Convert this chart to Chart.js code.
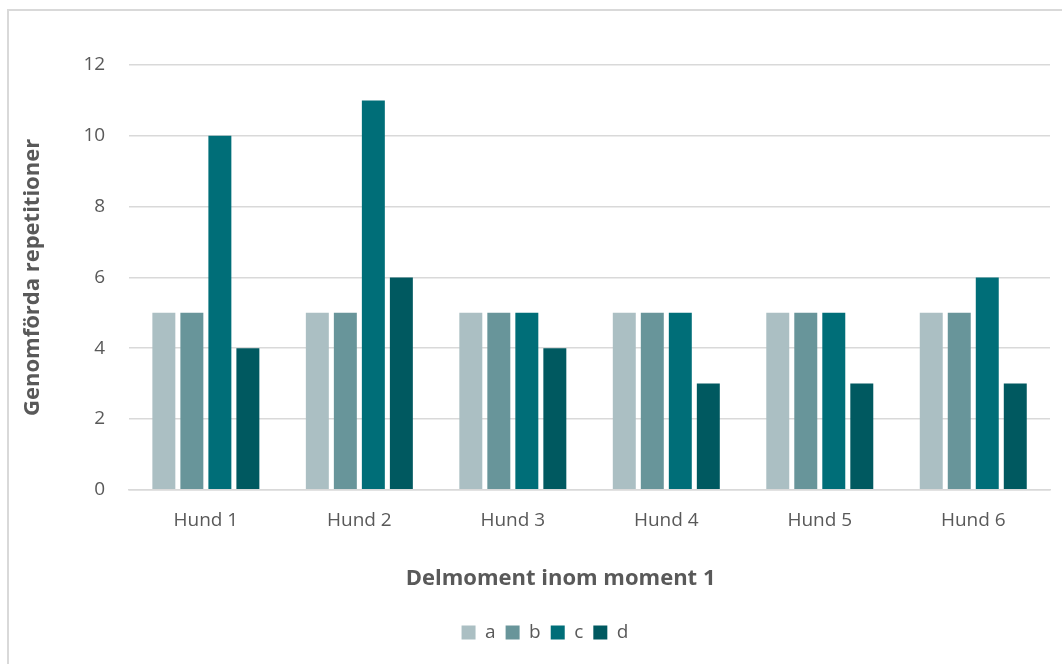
<!DOCTYPE html>
<html>
<head>
<meta charset="utf-8">
<script src="https://cdn.jsdelivr.net/npm/chart.js@4"></script>
<style>
  html, body { margin: 0; padding: 0; background: #fff; }
  #wrap { position: relative; width: 1062px; height: 664px; }
  #frame { position: absolute; left: 7px; top: 9px; width: 1062px; height: 664px;
           border-left: 2px solid #d9d9d9; border-top: 2px solid #d9d9d9; box-sizing: border-box; }
  canvas { position: absolute; left: 0; top: 0; }
</style>
</head>
<body>
<div id="wrap">
  <div id="frame"></div>
  <canvas id="c" width="1062" height="664"></canvas>
</div>
<script>
const categories = ["Hund 1", "Hund 2", "Hund 3", "Hund 4", "Hund 5", "Hund 6"];
const seriesA = [5, 5, 5, 5, 5, 5];
const seriesB = [5, 5, 5, 5, 5, 5];
const seriesC = [10, 11, 5, 5, 5, 6];
const seriesD = [4, 6, 4, 3, 3, 3];
const seriesNames = ["a", "b", "c", "d"];
const seriesColors = ["#abbfc3", "#68959a", "#006e78", "#005960"];
const yTicks = [0, 2, 4, 6, 8, 10, 12];

const FONT = "'Open Sans', 'Liberation Sans', sans-serif";
const TEXT = "#595959";

const ds = [seriesA, seriesB, seriesC, seriesD].map((vals, i) => ({
  label: seriesNames[i],
  data: vals,
  backgroundColor: seriesColors[i],
  borderWidth: 0,
  categoryPercentage: 0.73,
  barPercentage: 0.82
}));

// nudge the legend block slightly right, and centre the x-axis title
// over the area that includes the y-axis labels
const layoutTweaks = {
  id: "layoutTweaks",
  afterLayout(chart) {
    if (chart.legend) { chart.legend.left += 10; chart.legend.right += 10; }
    const xs = chart.scales.x;
    if (xs && !xs._titleWrapped) {
      const orig = xs.drawTitle;
      xs.drawTitle = function (...args) {
        const l = this.left;
        this.left = l - 58;
        orig.apply(this, args);
        this.left = l;
      };
      xs._titleWrapped = true;
    }
  }
};

new Chart(document.getElementById("c"), {
  type: "bar",
  data: { labels: categories, datasets: ds },
  plugins: [layoutTweaks],
  options: {
    responsive: false,
    animation: false,
    layout: { padding: { left: 20, right: 12, top: 65, bottom: 12 } },
    plugins: {
      tooltip: { enabled: false },
      legend: {
        position: "bottom",
        labels: {
          boxWidth: 14, boxHeight: 14, padding: 10,
          color: TEXT,
          font: { family: FONT, size: 19 }
        }
      }
    },
    scales: {
      x: {
        grid: { display: false, drawTicks: false },
        border: { color: "#d9d9d9", width: 1.5 },
        ticks: { color: TEXT, font: { family: FONT, size: 19 }, padding: 19 },
        title: {
          display: true, text: "Delmoment inom moment 1", color: TEXT,
          font: { family: FONT, size: 22, weight: "bold" }, padding: { top: 15, bottom: 21 }
        }
      },
      y: {
        min: 0, max: 12,
        afterBuildTicks: (axis) => { axis.ticks = yTicks.map(v => ({ value: v })); },
        grid: { color: "#d9d9d9", lineWidth: 1.5, drawTicks: false },
        border: { display: false },
        ticks: { color: TEXT, font: { family: FONT, size: 19 }, padding: 24 },
        title: {
          display: true, text: "Genomförda repetitioner", color: TEXT,
          font: { family: FONT, size: 22, weight: "bold" }, padding: { top: 0, bottom: 13 }
        }
      }
    }
  }
});
</script>
</body>
</html>
